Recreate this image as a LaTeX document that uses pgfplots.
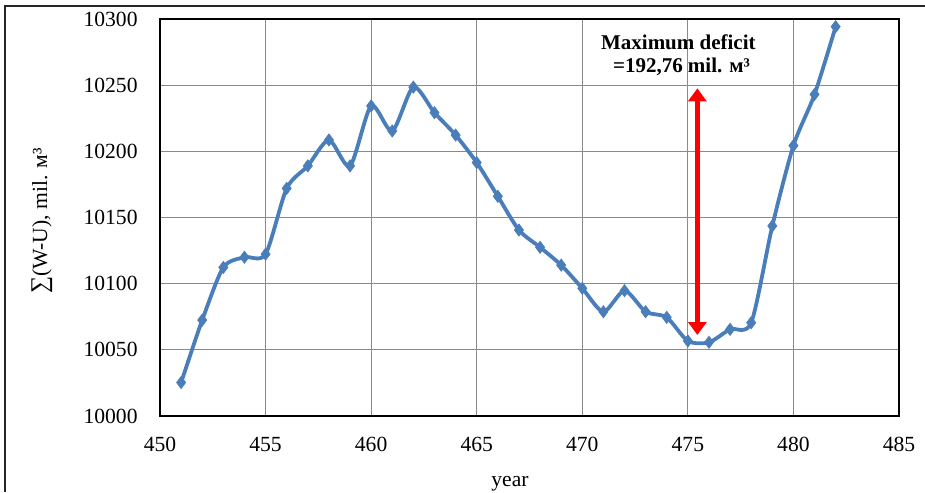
\documentclass[border=0pt]{standalone}
\usepackage{fontspec}
\setmainfont{Liberation Serif}
\usepackage{pgfplots}
\pgfplotsset{compat=1.18}
\usetikzlibrary{arrows.meta}
\definecolor{lineblue}{HTML}{4A7EBB}
\definecolor{gridgray}{HTML}{8A8A8A}
\begin{document}
\begin{tikzpicture}
\useasboundingbox (0,0) rectangle (462.5pt,246pt);
\draw[line width=0.8pt, black!85] (2.5pt,0) -- (2.5pt,243pt) -- (462.5pt,243pt);
\begin{axis}[
  at={(80pt,38pt)}, anchor=south west,
  scale only axis, width=369.5pt, height=198.5pt,
  xmin=450, xmax=485, ymin=10000, ymax=10300,
  xtick={450,455,...,485}, ytick={10000,10050,...,10300},
  scaled y ticks=false, scaled x ticks=false,
  grid=major,
  grid style={gridgray, line width=0.5pt},
  axis line style={black, line width=0.6pt},
  major tick length=0pt,
  tick label style={font=\fontsize{10.8}{12}\selectfont},
  /pgf/number format/assume math mode=true,
  /pgf/number format/1000 sep={},
  yticklabel style={anchor=east, inner sep=0pt, xshift=-11pt, /pgf/number format/fixed},
  xticklabel style={anchor=north, inner sep=0pt, yshift=-10.5pt},
  xlabel={year},
  ylabel={{\fontsize{12}{12}\selectfont ∑}(W-U), mil. м³},
  label style={font=\fontsize{10.8}{12}\selectfont},
  xlabel style={at={(axis description cs:0.4736,-0.178)}, anchor=base, inner sep=0pt},
  ylabel style={at={(axis description cs:-0.16,0.491)}, anchor=center, inner sep=0pt},
  clip=false,
]
\addplot[lineblue, line width=1.9pt, smooth, tension=0.45,
  mark=diamond*, mark size=3pt, mark options={fill=lineblue, draw=lineblue, line width=0.4pt}]
coordinates {
(451,10025.3) (452,10072.5) (453,10112.3) (454,10120) (455,10122.3)
(456,10172) (457,10189) (458,10208.6) (459,10189) (460,10234.3)
(461,10215.4) (462,10248.5) (463,10229.2) (464,10212.3) (465,10191.5)
(466,10166) (467,10140.5) (468,10127.5) (469,10114) (470,10096.5)
(471,10078.8) (472,10094.7) (473,10078.8) (474,10074.5) (475,10056.7)
(476,10055.7) (477,10065.5) (478,10070.5) (479,10143.6) (480,10204.3)
(481,10243) (482,10294.2)
};
\draw[red, line width=2.5pt, {Triangle[width=9pt,length=6.5pt]}-{Triangle[width=9pt,length=6.5pt]}]
  (axis cs:475.45,10247.6) -- (axis cs:475.45,10061.2);
\node[anchor=base, inner sep=0pt, font=\fontsize{10.5}{12}\selectfont\bfseries] at (axis cs:474.55,10277.3) {Maximum deficit};
\node[anchor=base, inner sep=0pt, font=\fontsize{10.5}{12}\selectfont\bfseries] at (axis cs:474.7,10259.2) {=192,76 mil. м³};
\end{axis}
\end{tikzpicture}
\end{document}
